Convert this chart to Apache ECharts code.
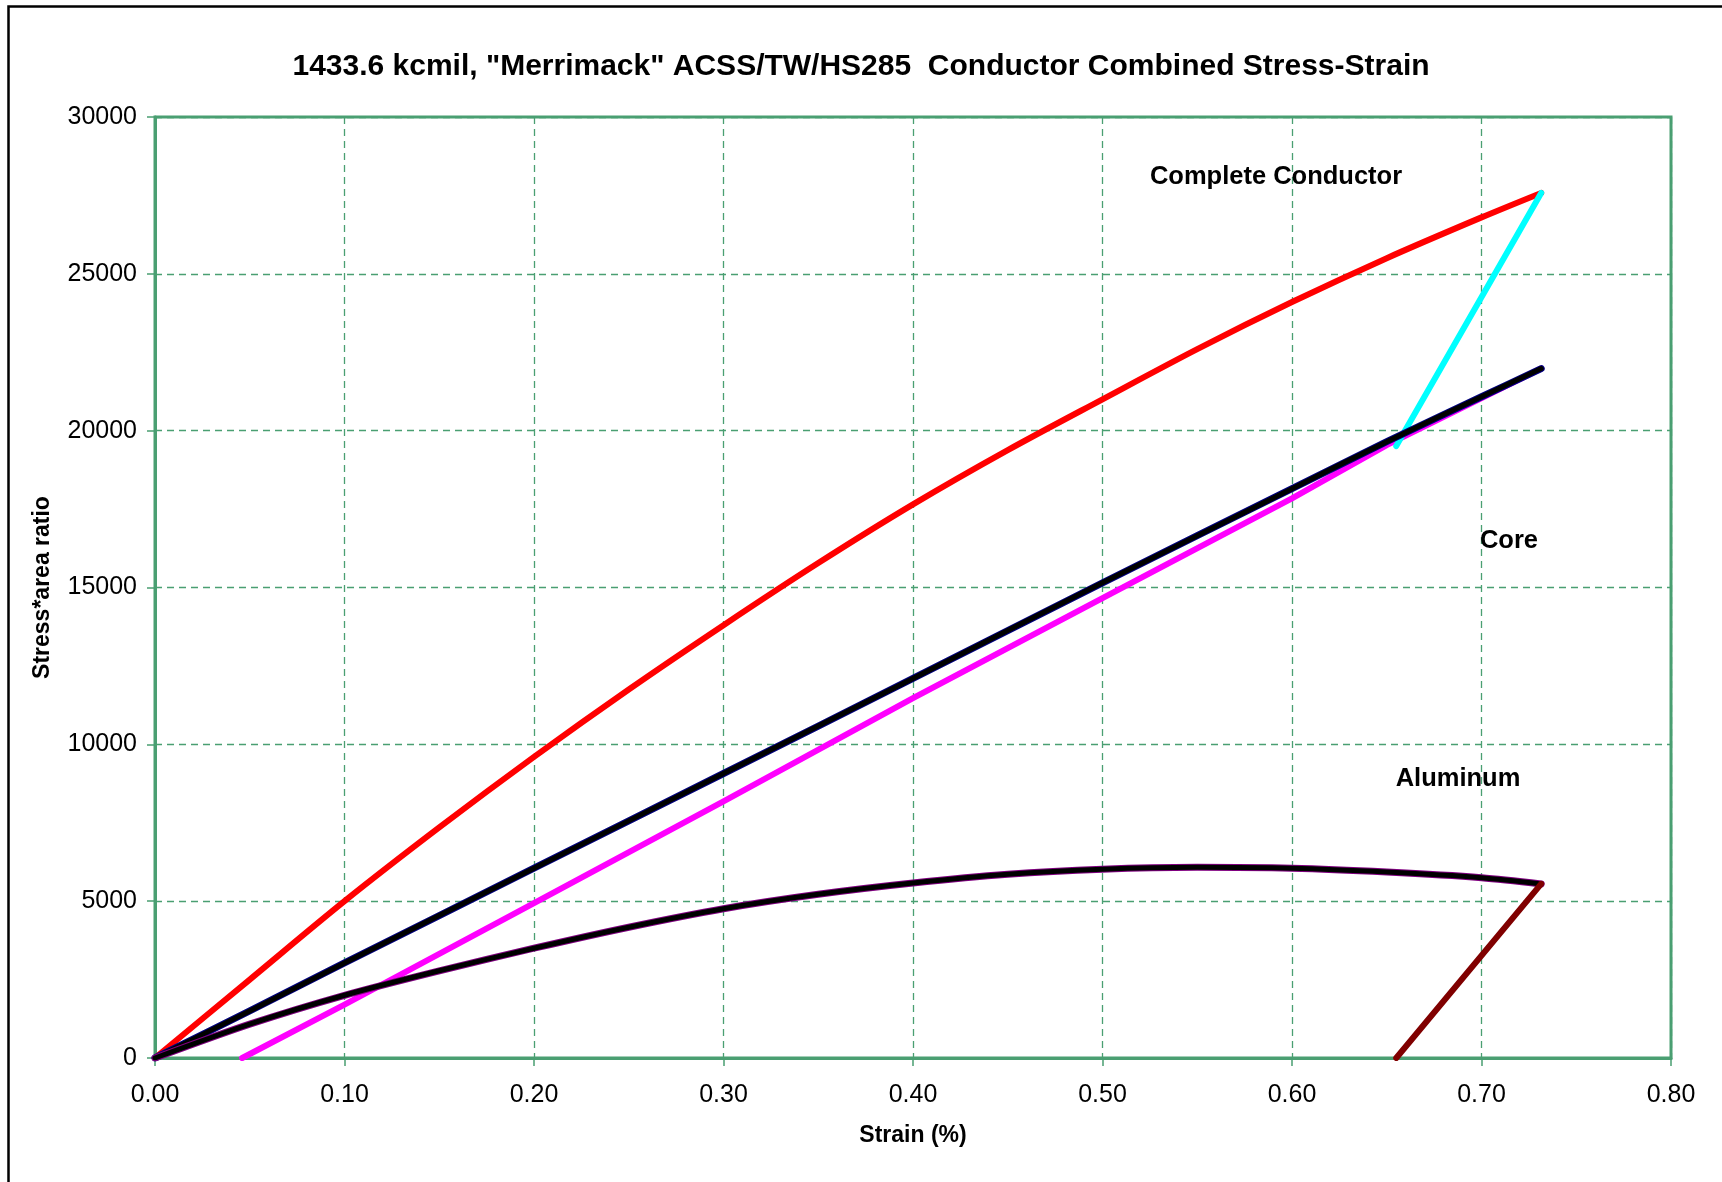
<!DOCTYPE html>
<html>
<head>
<meta charset="utf-8">
<script src="https://cdn.jsdelivr.net/npm/echarts@6/dist/echarts.min.js"></script>
<style>
html,body{margin:0;padding:0;background:#fff;}
#chart{width:1722px;height:1182px;}
</style>
</head>
<body>
<div id="chart"></div>
<script>
// ---- data (strain %, stress*area ratio) ----
const completeConductor = [[0,0],[0.05,2500],[0.1,5000],[0.15,7350],[0.2,9600],[0.25,11750],[0.3,13800],[0.35,15780],[0.4,17650],[0.45,19380],[0.5,21000],[0.55,22600],[0.6,24100],[0.65,25500],[0.7,26800],[0.7315,27580]];
const coreLoading = [[0,0],[0.05,1500],[0.1,3030],[0.2,6050],[0.3,9070],[0.4,12100],[0.5,15150],[0.6,18150],[0.65,19650],[0.7,21080],[0.7315,21980]];
const coreUnloading = [[0.046,0],[0.1,1700],[0.2,4940],[0.3,8180],[0.4,11470],[0.5,14660],[0.6,17840],[0.65,19540],[0.7315,21980]];
const conductorUnloading = [[0.655,19510],[0.7315,27580]];
const aluminumLoading = [[0,0],[0.05,1080],[0.1,2000],[0.15,2780],[0.2,3500],[0.25,4170],[0.3,4760],[0.35,5220],[0.4,5580],[0.45,5860],[0.5,6020],[0.55,6080],[0.6,6050],[0.65,5930],[0.7,5750],[0.7315,5550]];
const aluminumUnloading = [[0.655,0],[0.7315,5550]];
const xTicks = [0,0.1,0.2,0.3,0.4,0.5,0.6,0.7,0.8];
const yTicks = [0,5000,10000,15000,20000,25000,30000];

const titleText = '1433.6 kcmil, "Merrimack" ACSS/TW/HS285  Conductor Combined Stress-Strain';
const labelComplete = 'Complete Conductor';
const labelCore = 'Core';
const labelAluminum = 'Aluminum';

const FONT = "'Liberation Sans', Arial, sans-serif";
const GREEN = '#4a9f72';
const LABEL_FONT = "bold 25.5px 'Liberation Sans', Arial";

const chart = echarts.init(document.getElementById('chart'), null, {renderer:'canvas'});

function line(data, color, width, z, smooth){
  return {type:'line', data:data, showSymbol:false, smooth:smooth, z:z, silent:true,
    lineStyle:{color:color, width:width, cap:'round', join:'round'}};
}

chart.setOption({
  animation:false,
  backgroundColor:'#fff',
  title:{text:titleText, left:'center', top:52, padding:0,
    textStyle:{fontFamily:FONT, fontSize:30, fontWeight:'bold', color:'#000'}},
  grid:{left:155, top:117, width:1516, height:941, show:true, borderColor:GREEN, borderWidth:3, backgroundColor:'transparent'},
  xAxis:{type:'value', min:xTicks[0], max:xTicks[xTicks.length-1], interval:0.1,
    name:'Strain (%)', nameLocation:'middle', nameGap:66,
    nameTextStyle:{fontFamily:FONT, fontSize:23, fontWeight:'bold', color:'#000'},
    axisLine:{show:true, lineStyle:{color:GREEN, width:3}},
    axisTick:{show:true, length:8, lineStyle:{color:GREEN, width:1.5}},
    axisLabel:{fontFamily:FONT, fontSize:25, color:'#000', margin:25, formatter:v=>v.toFixed(2)},
    splitLine:{show:true, lineStyle:{color:GREEN, width:1.3, type:[7,5]}}},
  yAxis:{type:'value', min:yTicks[0], max:yTicks[yTicks.length-1], interval:5000,
    name:'Stress*area ratio', nameLocation:'middle', nameGap:101, nameRotate:90,
    nameTextStyle:{fontFamily:FONT, fontSize:23, fontWeight:'bold', color:'#000'},
    axisLine:{show:true, lineStyle:{color:GREEN, width:3}},
    axisTick:{show:true, length:8, lineStyle:{color:GREEN, width:1.5}},
    axisLabel:{fontFamily:FONT, fontSize:25, color:'#000', margin:18, formatter:v=>String(v)},
    splitLine:{show:true, lineStyle:{color:GREEN, width:1.3, type:[7,5]}}},
  graphic:[
    {type:'rect', left:6, top:4, shape:{width:2000, height:2000}, style:{fill:'none', stroke:'#000', lineWidth:2.5}, z:100, silent:true},
    {type:'text', x:1276, y:177, style:{text:labelComplete, fill:'#000', font:LABEL_FONT, textAlign:'center', textVerticalAlign:'middle'}, z:100},
    {type:'text', x:1509, y:541, style:{text:labelCore, fill:'#000', font:LABEL_FONT, textAlign:'center', textVerticalAlign:'middle'}, z:100},
    {type:'text', x:1458, y:779, style:{text:labelAluminum, fill:'#000', font:LABEL_FONT, textAlign:'center', textVerticalAlign:'middle'}, z:100}
  ],
  series:[
    line(completeConductor, '#ff0000', 6, 2, 0.3),
    line(coreUnloading, '#ff00ff', 6, 3, false),
    line(conductorUnloading, '#00ffff', 6, 4, false),
    line(coreLoading, '#000080', 7, 5, 0.3),
    line(coreLoading, '#000000', 5, 6, 0.3),
    line(aluminumLoading, '#800080', 7, 7, 0.3),
    line(aluminumLoading, '#000000', 5, 8, 0.3),
    line(aluminumUnloading, '#800000', 6, 9, false)
  ]
});
</script>
</body>
</html>
